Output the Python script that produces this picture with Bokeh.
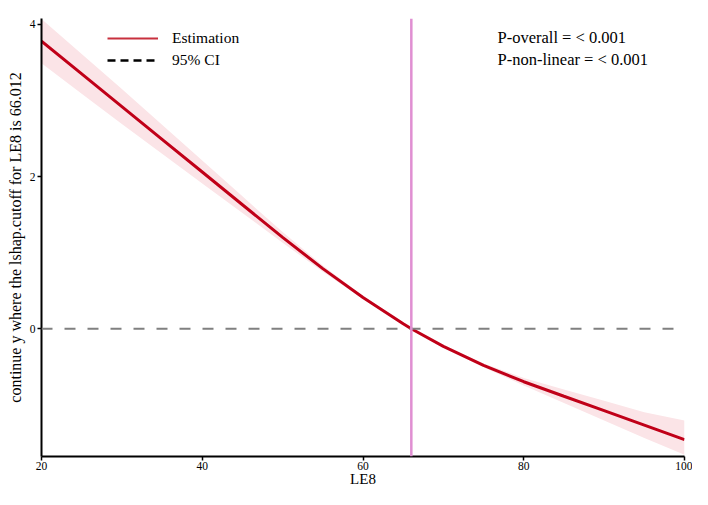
from bokeh.plotting import figure
from bokeh.models import Range1d, Span, Label, Legend, LegendItem, FixedTicker, ColumnDataSource
from bokeh.embed import file_html
from bokeh.resources import INLINE

# ---- data ----
le8 = [20, 25, 30, 35, 40, 45, 50, 55, 60, 65, 66.012, 70, 75, 80, 85, 90, 95, 100]
estimate = [3.78, 3.35, 2.92, 2.49, 2.06, 1.63, 1.20, 0.79, 0.41, 0.066, 0.0,
            -0.232, -0.482, -0.697, -0.888, -1.078, -1.268, -1.458]
ci_lower = [3.49, 3.09, 2.69, 2.30, 1.91, 1.52, 1.13, 0.75, 0.39, 0.061, 0.0,
            -0.242, -0.507, -0.747, -0.978, -1.208, -1.438, -1.658]
ci_upper = [4.07, 3.61, 3.15, 2.68, 2.21, 1.74, 1.27, 0.83, 0.43, 0.071, 0.0,
            -0.222, -0.457, -0.647, -0.798, -0.948, -1.098, -1.208]
cutoff = 66.012
x_ticks = [20, 40, 60, 80, 100]
y_ticks = [0, 2, 4]
p_overall = "P-overall = < 0.001"
p_nonlinear = "P-non-linear = < 0.001"
y_label = "continue y where the lshap.cutoff for LE8 is 66.012"

FONT = "Liberation Serif"

p = figure(width=692, height=489, output_backend="svg", toolbar_location=None,
           x_range=Range1d(20, 100), y_range=Range1d(-1.68, 4.078),
           min_border_left=41, min_border_right=8, min_border_top=18, min_border_bottom=33)
p.outline_line_color = None
p.xgrid.visible = False
p.ygrid.visible = False
p.background_fill_color = "white"

src = ColumnDataSource(dict(x=le8, est=estimate, lo=ci_lower, hi=ci_upper))
p.varea(x="x", y1="lo", y2="hi", source=src, fill_color="#fbe4e7", fill_alpha=1.0)

p.add_layout(Span(location=0, dimension="width", line_color="#808080",
                  line_width=2, line_dash="11 12"))
p.add_layout(Span(location=cutoff, dimension="height", line_color="#e08fd2",
                  line_width=2.5))

est_r = p.line(x="x", y="est", source=src, line_color="#c00018", line_width=3)
nan = float("nan")
leg_r = p.line(x=[nan], y=[nan], line_color="#c8303e", line_width=2)
ci_r = p.line(x=[nan], y=[nan], line_color="black", line_width=2.5, line_dash="8 5")

legend = Legend(items=[LegendItem(label="Estimation", renderers=[leg_r]),
                       LegendItem(label="95% CI", renderers=[ci_r])],
                location=(66, 385), border_line_color=None, background_fill_alpha=0,
                padding=0, spacing=0, glyph_width=51, glyph_height=22, label_height=22,
                label_standoff=14, label_text_font=FONT, label_text_font_size="15.5px",
                label_text_color="black")
p.add_layout(legend)

for i, t in enumerate([p_overall, p_nonlinear]):
    p.add_layout(Label(x=456, y=419 - i * 21.5, x_units="screen", y_units="screen",
                       text=t, text_font=FONT, text_font_size="16.5px",
                       text_baseline="middle", text_color="black"))

for ax in (p.xaxis[0], p.yaxis[0]):
    ax.axis_line_color = "black"
    ax.axis_line_width = 2
    ax.major_tick_line_color = "black"
    ax.major_tick_line_width = 1.5
    ax.major_tick_in = 0
    ax.major_tick_out = 4
    ax.minor_tick_line_color = None
    ax.major_label_text_font = FONT
    ax.major_label_text_font_size = "11.5px"
    ax.major_label_text_color = "black"
    ax.axis_label_text_font = FONT
    ax.axis_label_text_font_style = "normal"
    ax.axis_label_text_color = "black"

p.xaxis.ticker = FixedTicker(ticks=x_ticks)
p.yaxis.ticker = FixedTicker(ticks=y_ticks)
p.xaxis.axis_label = "LE8"
p.xaxis.axis_label_text_font_size = "15px"
p.xaxis.axis_label_standoff = -2
p.xaxis.major_label_standoff = 1
p.yaxis.axis_label = y_label
p.yaxis.axis_label_text_font_size = "16px"
p.yaxis.axis_label_standoff = 3
p.yaxis.major_label_standoff = 2

open("out.html", "w").write(file_html(p, INLINE))
